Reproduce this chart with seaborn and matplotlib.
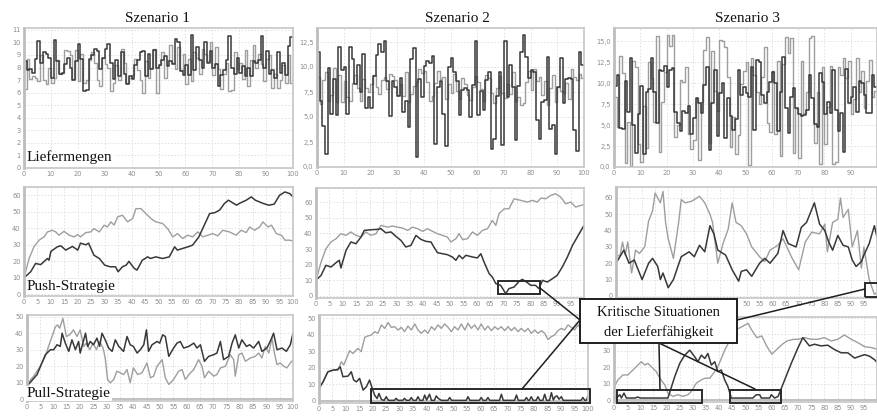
import numpy as np
import matplotlib
matplotlib.use("Agg")
import matplotlib.pyplot as plt
from matplotlib.patches import Rectangle
from matplotlib.lines import Line2D
from matplotlib.ticker import FuncFormatter, FixedLocator
import seaborn as sns

sns.set_style("white")
plt.rcParams['font.family'] = ['DejaVu Sans']

W, H = 877, 417
DARK = '#383838'
LIGHT = '#9e9e9e'

titles = ["Szenario 1", "Szenario 2", "Szenario 3"]
row_labels = ["Liefermengen", "Push-Strategie", "Pull-Strategie"]
annot_text = ["Kritische Situationen", "der Lieferfähigkeit"]

# ---------------- Row 1: Liefermengen (step series, periods 0..99) ----------------
lief1_dark = [8.5, 7.8, 7.9, 7.6, 8.7, 10.1, 8.4, 9.2, 9.1, 8.8,
              7.2, 10.2, 8.5, 7.5, 7.6, 8.3, 8.8, 8.0, 7.0, 8.5,
              9.9, 8.7, 6.1, 6.2, 8.7, 9.0, 9.5, 9.3, 7.9, 8.8,
              9.5, 9.9, 8.4, 7.1, 8.6, 7.3, 9.2, 7.5, 6.7, 7.3,
              7.1, 8.2, 8.6, 9.2, 9.3, 7.3, 9.1, 7.9, 9.4, 8.0,
              8.2, 8.6, 8.9, 8.1, 8.5, 8.3, 10.3, 10.0, 7.7, 7.4,
              8.2, 7.4, 10.6, 7.8, 9.6, 8.6, 8.0, 10.0, 8.4, 9.3,
              8.0, 8.3, 6.5, 7.4, 7.8, 8.6, 10.5, 8.0, 7.5, 8.8,
              7.6, 8.1, 7.3, 8.0, 7.3, 8.5, 8.4, 8.6, 10.5, 8.0,
              9.3, 7.5, 7.8, 7.2, 9.2, 7.6, 8.4, 7.4, 9.7, 10.4]
lief1_light = [6.3, 8.7, 7.1, 7.3, 7.2, 6.9, 9.0, 7.0, 6.7, 8.0,
               6.8, 7.2, 8.6, 7.5, 7.6, 9.4, 9.3, 9.0, 7.1, 9.4,
               6.9, 9.1, 6.8, 7.0, 8.6, 9.2, 8.4, 7.0, 6.5, 8.8,
               8.3, 8.0, 6.1, 6.8, 8.2, 7.0, 9.5, 8.4, 6.8, 7.2,
               7.4, 8.7, 7.8, 7.0, 6.0, 8.5, 7.2, 8.0, 9.5, 6.0,
               8.2, 9.2, 7.2, 8.6, 9.8, 8.4, 7.9, 9.6, 7.8, 9.1,
               6.7, 8.7, 6.9, 9.2, 8.8, 7.5, 9.5, 9.1, 8.5, 10.0,
               7.4, 9.6, 7.9, 6.3, 7.5, 8.4, 6.1, 6.2, 9.2, 7.9,
               8.4, 7.1, 9.4, 6.5, 8.6, 9.8, 8.0, 9.1, 8.3, 6.9,
               8.7, 9.0, 6.4, 7.5, 6.4, 7.0, 8.2, 6.8, 9.0, 6.8]
lief2_dark = [11.5, 6.6, 4.1, 1.3, 9.9, 5.3, 8.8, 5.2, 12.0, 9.7,
              10.0, 5.3, 12.0, 10.8, 8.3, 10.2, 7.5, 11.3, 5.9, 7.0,
              5.9, 9.1, 11.2, 12.3, 11.5, 12.6, 8.6, 5.1, 8.6, 8.0,
              7.1, 8.9, 5.5, 6.6, 4.0, 10.8, 11.9, 1.0, 8.8, 7.0,
              10.1, 10.6, 10.4, 11.1, 2.3, 8.0, 8.6, 5.3, 2.1, 10.0,
              10.9, 9.5, 8.6, 5.2, 7.7, 7.9, 7.7, 5.0, 8.2, 12.6,
              5.2, 7.6, 5.7, 8.7, 9.5, 1.8, 2.8, 7.1, 9.5, 2.2,
              12.6, 7.0, 10.2, 8.0, 2.7, 8.1, 11.5, 13.2, 11.0, 8.9,
              9.7, 9.5, 4.7, 2.8, 6.5, 6.7, 11.0, 3.8, 4.2, 1.3,
              8.0, 10.9, 6.4, 8.8, 8.9, 8.8, 3.7, 1.6, 11.5, 10.2]
lief2_light = [9.0, 6.3, 8.7, 9.5, 6.6, 7.2, 9.9, 6.5, 9.2, 6.5,
               8.6, 7.0, 6.6, 8.4, 9.2, 7.9, 6.6, 8.8, 7.9, 7.5,
               8.3, 9.2, 8.0, 7.3, 8.7, 9.0, 7.8, 9.3, 9.1, 8.7,
               7.2, 8.3, 7.1, 9.5, 6.5, 7.3, 8.1, 8.5, 9.8, 9.4,
               9.6, 8.5, 6.6, 7.1, 8.4, 9.6, 8.8, 9.0, 6.8, 8.3,
               7.4, 9.3, 7.6, 6.8, 8.9, 8.3, 7.2, 6.7, 8.0, 9.1,
               8.5, 7.8, 6.6, 9.2, 8.9, 7.4, 6.4, 7.9, 9.1, 7.4,
               6.9, 8.3, 7.3, 9.5, 6.6, 7.0, 6.2, 6.4, 8.5, 9.6,
               7.7, 9.8, 8.6, 9.0, 7.2, 8.6, 6.2, 7.9, 9.2, 6.5,
               8.0, 7.6, 7.4, 8.4, 6.8, 9.8, 9.0, 8.7, 9.3, 8.9]
lief3_dark = [9.7, 11.0, 4.6, 4.5, 10.3, 6.6, 13.0, 5.0, 1.7, 6.3,
              9.7, 1.5, 9.0, 9.3, 13.0, 9.0, 5.2, 11.6, 11.5, 12.1,
              9.6, 11.6, 11.8, 6.6, 5.2, 4.3, 6.7, 6.4, 7.3, 3.9,
              5.8, 8.2, 7.6, 6.4, 9.8, 12.0, 2.0, 7.7, 11.6, 3.7,
              8.8, 10.0, 3.5, 8.2, 6.1, 4.4, 5.7, 11.6, 8.6, 9.6,
              8.8, 8.3, 12.0, 4.4, 12.8, 12.5, 8.6, 7.7, 8.9, 10.1,
              11.3, 10.0, 4.3, 9.0, 13.1, 7.1, 4.1, 8.4, 9.4, 7.0,
              6.3, 6.1, 6.2, 6.8, 11.0, 8.2, 5.1, 4.8, 11.2, 10.2,
              6.3, 7.8, 6.5, 11.6, 6.8, 4.3, 6.4, 1.8, 11.7, 7.6,
              8.4, 9.5, 6.6, 10.3, 10.0, 8.6, 6.4, 6.4, 11.0, 9.5]
lief3_light = [8.4, 4.8, 13.2, 11.2, 0.5, 5.4, 0.1, 12.7, 12.0, 2.8,
               0.6, 7.3, 2.3, 12.5, 10.6, 5.4, 15.7, 1.8, 7.8, 11.3,
               15.8, 14.5, 15.8, 3.6, 5.0, 10.4, 10.2, 12.0, 4.0, 2.2,
               3.2, 8.2, 0.8, 7.8, 14.0, 15.5, 2.9, 13.8, 9.1, 6.7,
               15.2, 15.0, 14.3, 10.8, 2.4, 6.0, 1.5, 3.8, 9.9, 11.5,
               12.5, 0.2, 13.0, 11.0, 8.9, 7.5, 10.8, 14.3, 5.2, 4.2,
               11.5, 4.0, 12.6, 1.3, 12.3, 15.5, 13.6, 15.4, 1.7, 7.0,
               1.1, 12.6, 6.4, 8.9, 15.4, 15.6, 2.9, 9.0, 0.4, 12.0,
               2.7, 7.2, 12.1, 0.3, 0.6, 12.0, 11.0, 13.0, 10.6, 12.6,
               6.3, 8.1, 13.0, 9.0, 11.5, 7.0, 10.3, 12.8, 8.3, 9.1]

# ---------------- Row 2: Push-Strategie ----------------
push1_dark_x = [0, 2.5, 4.3, 6.2, 8.7, 9.3, 10, 12.4, 13.7, 15.5, 18, 20, 21, 23, 24, 26, 28, 30, 32, 34,
                35, 36.6, 38, 39, 41, 42, 44, 46, 47, 49, 51.5, 54, 56, 57, 59, 61, 62.7, 65, 67, 69,
                71, 72.7, 74.5, 76, 79, 80, 82.6, 84.5, 86, 89, 91, 93, 95, 97, 98.8, 100]
push1_dark_y = [10, 13.7, 18.7, 18, 21.7, 20.7, 26, 28.8, 29.4, 26.8, 29, 26.8, 31, 30, 31, 23.7, 21.7, 17.7, 16.7, 16.7,
                13.7, 16.7, 17.7, 20, 15.7, 14.7, 20.7, 22.7, 21.7, 22.7, 21.7, 22.7, 28.8, 26.8, 27.8, 28.8, 29.8, 34.8, 41.8, 48.9,
                49.5, 51, 55, 57, 54, 55, 57, 59, 57, 55, 54, 54.6, 60, 62, 61, 59]
push1_light_x = [0, 1.9, 3.7, 5.6, 7.5, 8.7, 10.6, 11.8, 13, 14.9, 16.8, 18.6, 19.9, 21, 23, 24.8, 26, 28, 29.8, 31,
                 32.3, 33.5, 34.8, 36.6, 38.5, 40.4, 41.6, 43.5, 45.3, 47.2, 49, 51.5, 53.4, 55.3, 57.1, 59, 60.9, 62.7, 64.6, 66.5,
                 68.3, 70.2, 72, 73.9, 76.4, 78.9, 80.7, 82.6, 83.9, 85.7, 87.6, 88.8, 90.7, 92, 93.8, 95.7, 97, 98.8, 100]
push1_light_y = [10, 21.7, 28.8, 32.8, 34.8, 37.8, 38.8, 37.8, 35.8, 38.2, 35.8, 34.8, 36.2, 34.8, 37.4, 37.8, 39.8, 37.8, 41.9, 40.8,
                 43.9, 41.9, 46.9, 47.9, 43.9, 45.9, 51.9, 51.9, 48.9, 45.9, 43.9, 42.9, 39.8, 34.8, 36.8, 33.8, 35.8, 34.8, 37.8, 34.8,
                 35.8, 36.8, 35.4, 38.8, 37.8, 35.8, 38.8, 37.4, 40.8, 38.8, 40.8, 43.9, 40.8, 41.9, 36.8, 35.8, 32.8, 32.8, 32.2]
push2_dark_x = [0, 1.9, 3.7, 5.6, 7.5, 8.7, 9.3, 11.2, 13, 14.9, 16.8, 18, 20.5, 23, 24.2, 26, 28, 29.8, 31.7, 33.5,
                35.4, 37.3, 39.1, 41, 42.9, 44, 45.3, 47.2, 49, 50.9, 52.2, 53.4, 54.7, 55.9, 58.4, 60.2, 61.5, 62.7, 64.6, 65.8,
                67.1, 68.9, 70.8, 72, 73.9, 75.8, 77, 78.9, 80.1, 81.9, 83.2, 84.5, 86.3, 88.2, 90, 91.9, 93.8, 95.7, 97.5, 100]
push2_dark_y = [10, 13.2, 19.6, 18.5, 21.3, 22.8, 17.9, 29.1, 34.5, 33.4, 37.7, 41.9, 42.3, 42.6, 43, 40.4, 40.9, 38.1, 35.5, 31.3,
                32.3, 38.7, 36.2, 34.9, 34.5, 31.3, 27.7, 27, 26.4, 24.9, 22.8, 26, 23.8, 26, 24.9, 24.3, 27, 21.7, 14.3, 12.1,
                7.9, 6.8, 1.5, 4.7, 5.7, 9.4, 10.6, 8.5, 6.8, 6.8, 4.7, 10, 8.9, 11, 13.2, 18.5, 24.9, 32.3, 37.7, 45.1]
push2_light_x = [0, 1.9, 3.7, 5.6, 7.5, 9.3, 11.2, 13, 14.9, 16.8, 18.6, 20.5, 22.4, 24.2, 26.7, 28.6, 30.4, 32.3, 34.2, 36,
                 37.9, 39.8, 41.6, 43.5, 45.3, 47.2, 49, 50.3, 52.2, 53.4, 54.7, 56.5, 58.4, 60.2, 62.1, 64, 65.8, 67.1, 68.3, 70.2,
                 72, 73.9, 76.4, 78.9, 80.7, 82.6, 83.9, 85.7, 87.6, 89.4, 91.3, 93.2, 95, 96.9, 98.8, 100]
push2_light_y = [10, 21.7, 30.2, 34.5, 36.6, 39.8, 38.7, 40.9, 38.7, 37.7, 40.9, 38.7, 39.8, 45.1, 44, 44.7, 44, 43.4, 41.9, 44,
                 43, 41.3, 43, 41.3, 39.8, 38.7, 37.7, 34.5, 36.6, 39.8, 36, 36.6, 40.9, 38.7, 41.9, 43, 48.3, 45.1, 52.6, 55.7,
                 55.7, 62.1, 61.1, 60, 61.1, 60, 62.6, 62.1, 64.3, 65.3, 63.2, 58.9, 60, 56.8, 57.9, 58.3]
push3_dark_x = [0, 3, 5, 7, 9, 10, 12.5, 14, 16, 17, 18, 20, 22, 25, 28, 30, 32, 34, 36, 37.5,
                39, 42, 44.5, 47, 48, 50, 52, 55, 57, 59, 62, 64, 66, 69, 71, 73, 76, 78, 80, 81.5,
                83, 85, 87, 89, 90.5, 92, 94, 95, 97, 99, 100]
push3_dark_y = [20, 28, 20, 22, 14, 10, 20, 23, 18, 10, 14, 5, 10, 24, 27, 24, 31, 27, 43, 38,
                28, 25, 16, 9, 15, 16, 12, 20, 23, 20, 26, 40, 32, 30, 42, 45, 57, 44, 40, 33,
                28, 37, 31, 30, 22, 18, 21, 25, 32, 43, 36]
push3_light_x = [0, 1.6, 2.5, 3.5, 4.5, 6, 7.5, 9, 11, 12.5, 14, 15, 17, 18, 19, 20, 22, 24, 25, 26.5,
                 29, 32, 34, 36, 37, 39, 41, 43, 44.5, 46, 48, 50, 52, 55, 57, 59, 62, 64, 67.5, 70,
                 72.5, 75, 78, 80, 81, 83, 85, 86, 87, 89, 90.5, 92.5, 94, 95, 97, 99, 100]
push3_light_y = [24, 25, 33, 25, 33, 14, 28, 26, 30, 46, 52, 63, 57, 64, 45, 35, 23, 45, 59, 57,
                 58, 61, 57, 50, 45, 20, 32, 41, 57, 45, 43, 38, 30, 24, 21, 28, 31, 35, 23, 16,
                 33, 39, 38, 44, 27, 45, 47, 60, 48, 53, 30, 40, 17, 30, 10, 1, 2]

# ---------------- Row 3: Pull-Strategie ----------------
pull1_dark_x = [0, 3.8, 5.6, 6.9, 8.8, 10, 11.3, 12.5, 13.2, 14.4, 15.7, 16.9, 18.2, 19.4, 20, 22, 22.8, 23.8, 25, 26.3,
                27.3, 28.2, 29.4, 30.7, 32, 33.2, 34.5, 36.3, 37.6, 38.8, 40, 41.4, 42.6, 43.9, 44.9, 45.7, 47, 48.9, 49.9, 51,
                52, 53.3, 55.1, 56.4, 57.6, 58.9, 60.8, 62.7, 63.9, 65.2, 66.7, 68.3, 70.2, 71.4, 72.7, 73.9, 75.8, 77.1, 78.3, 79.6,
                80.8, 82.5, 83.7, 85.2, 87.1, 88.3, 90.2, 91.7, 92.7, 94, 95.9, 97.5, 99, 100]
pull1_dark_y = [8, 15, 22, 27, 30, 30, 33, 32, 40, 34, 29, 36, 30, 35, 28, 40, 32, 35, 33, 37,
                32, 40, 36, 31, 29, 36, 32, 29, 38, 33, 32, 28, 30, 33, 42, 29, 33, 35, 34, 39,
                38, 26, 31, 34, 35, 31, 32, 34, 31, 33, 23, 26, 27, 28, 35, 24, 26, 34, 39, 31,
                36, 32, 33, 31, 35, 29, 31, 36, 40, 30, 31, 29, 33, 40]
pull1_light_x = [0, 2.5, 5, 6.9, 8.1, 9.4, 10.7, 11.5, 12.3, 13.5, 14.8, 16, 17.5, 18.8, 20, 21.3, 22.3, 23.6, 24.8, 26.1,
                 27.3, 28.6, 29.4, 30.3, 31.3, 32.6, 33.8, 35.1, 36.3, 37.6, 38.8, 40, 41.6, 43.2, 45.1, 46.4, 47.6, 48.9, 50.8, 52,
                 53.3, 55.1, 57, 58.3, 59.5, 61.4, 62.7, 64.5, 65.8, 66.7, 68.3, 70.2, 71.4, 72.7, 74.6, 76.4, 77.7, 78.3, 79.6, 80.8,
                 82.1, 84, 85.8, 87.1, 88.3, 89.6, 90.9, 92.1, 93, 94, 95.2, 96.5, 97.7, 99, 100]
pull1_light_y = [9, 14, 20, 26, 32, 38, 44, 45, 43, 49, 38, 39, 42, 38, 42, 32, 34, 30, 34, 30,
                 35, 31, 25, 12, 10, 12, 17, 16, 15, 18, 10, 19, 15, 16, 22, 13, 14, 20, 24, 13,
                 9, 12, 17, 18, 12, 16, 18, 24, 20, 13, 17, 14, 15, 19, 20, 27, 24, 14, 27, 28,
                 23, 25, 26, 28, 25, 32, 28, 37, 28, 21, 22, 20, 19, 22, 24]
pull2_dark_x = [0, 1.5, 3.3, 5.2, 7, 7.9, 8.9, 10.8, 12, 12.9, 13.9, 15.1, 16.4, 17.6, 18.8, 19.8, 20.7, 21.6, 22.3, 23.2,
                24.2, 25, 25.8, 28, 28.7, 29.4, 31.1, 31.8, 32.5, 33.6, 34.3, 35, 36.1, 36.8, 37.5, 38.6, 39.3, 40, 41.1, 41.8,
                42.9, 43.6, 44.3, 45.5, 47.9, 48.6, 49.3, 54.7, 55.4, 56.1, 59.6, 60.3, 61, 62.1, 62.8, 63.5, 67.1, 67.8, 68.5,
                72.7, 73.4, 74.1, 76.4, 77.1, 77.8, 78.2, 78.9, 79.6, 80.7, 81.4, 82.1, 83.2, 83.9, 84.6, 85.7, 86.4, 87.1,
                87.8, 88.5, 89.2, 90.1, 90.8, 97.4, 98.1, 98.8, 99.5, 100]
pull2_dark_y = [7.5, 11.5, 17.6, 18.6, 19, 20.6, 14.6, 15, 17.6, 12.6, 11.5, 13.6, 6.5, 8.5, 12.6, 7.5, 3.4, 1.4, 4.5, 0.8,
                0.3, 2.5, 0.3, 0.3, 1.5, 0.3, 0.3, 1.5, 0.3, 0.3, 2, 0.3, 0.3, 2.5, 0.3, 0.3, 3.5, 0.5, 4, 0.3,
                0.3, 3, 1.5, 0.3, 0.3, 2, 0.3, 0.3, 2.5, 0.3, 0.3, 2, 0.3, 0.3, 2, 0.3, 0.3, 4, 0.3,
                0.3, 3.5, 0.3, 0.3, 2, 0.3, 0.3, 2.5, 0.3, 0.3, 2.5, 0.3, 0.3, 4, 0.3, 0.3, 5, 0.5,
                2.5, 3, 1, 2.5, 0.3, 0.3, 2, 0.3, 0.5, 3]
pull2_light_x = [0, 1.5, 3.3, 5.2, 7, 8.3, 9.2, 11.4, 12.6, 14.5, 15.7, 17, 18.2, 19.5, 20.7, 21.9, 23.2, 24.4, 25.7, 26.9,
                 28.1, 29.4, 30.6, 31.8, 33.1, 34.3, 35.6, 36.8, 38, 39.3, 40.5, 41.8, 43, 44.2, 45.5, 46.7, 48, 49.2, 50.4, 51.7,
                 52.9, 54.2, 55.4, 56.6, 57.9, 59.1, 60.3, 61.6, 62.8, 64.1, 65.3, 66.5, 67.8, 69, 70.3, 71.5, 72.7, 74, 75.2, 76.5,
                 77.7, 78.9, 80.2, 81.4, 82.7, 83.9, 85.1, 86.4, 87.6, 88.8, 90.1, 91.3, 92.6, 93.8, 95, 96.3, 97.5, 98.8, 100]
pull2_light_y = [7.5, 11.5, 17.6, 18.6, 18.6, 23.7, 21.7, 30.4, 28.7, 31.8, 29.8, 38.5, 39.3, 39.9, 41.9, 40.9, 46, 43.9, 47.4, 44.5,
                 44.9, 42.9, 44.5, 41.9, 45.3, 42.9, 46.6, 42.9, 40.9, 42.9, 40.9, 44.9, 42.9, 46, 43.9, 46.6, 44.5, 41.9, 44.9, 42.9,
                 46.6, 42.9, 47, 43.9, 46, 42.9, 46.6, 42.9, 45.3, 42.5, 44.9, 43.3, 44.9, 42.5, 44.9, 42.5, 44.5, 41.9, 43.9, 41.9,
                 43.9, 40.9, 42.9, 40.9, 42.5, 40.9, 37.2, 38.9, 39.9, 42.5, 43.9, 42.9, 46, 44.5, 42.9, 46, 43.3, 43.9, 44.5]
pull3_dark_x = [0, 0.9, 2.2, 2.8, 3.8, 4.7, 8, 9, 10, 11, 19.3, 20.5, 23.1, 25, 26.9, 28.8, 30.7, 31.9, 33.2, 34.5,
                35.7, 37, 38.3, 39.5, 40.8, 42.1, 43.3, 44.6, 52.8, 54.1, 55.4, 56, 59.2, 59.8, 61.1, 62.4, 64.9, 67.4, 70, 71.8,
                74.3, 76.2, 78.7, 81.3, 83.8, 86.4, 88.9, 91.5, 93.4, 95.3, 97.2, 99.1, 100]
pull3_dark_y = [3.4, 1.4, 3.4, 1.4, 4.4, 1.4, 1.4, 2, 1.4, 1.4, 1.4, 1.4, 14.4, 22.4, 27.4, 30.4, 26.4, 23.4, 27.4, 25.4,
                28.4, 21.4, 23.4, 17.4, 18.4, 12.4, 8.4, 1.4, 1.4, 3.4, 3.4, 1.4, 1.4, 3.4, 1.4, 2.4, 12.4, 22.4, 32, 38,
                33, 34, 33, 33.4, 30.8, 28.8, 28.8, 25.6, 26.7, 27.7, 26.7, 24.6, 23]
pull3_light_x = [0, 1.5, 3.4, 5.3, 7.2, 9.1, 10.4, 11.7, 12.9, 14.8, 16.1, 17.4, 19.3, 20.5, 22.4, 24.3, 26.2, 28.1, 29.4, 31.3,
                 33.2, 34.5, 36.4, 38.3, 39.5, 40.8, 42.1, 44, 45.9, 47.1, 49.1, 51, 52.2, 54.3, 56.2, 58, 60, 62, 64, 65.8,
                 68.3, 70, 72.4, 74.9, 77.5, 80, 82.6, 85.1, 87.6, 90.2, 92.7, 95.3, 97.8, 100]
pull3_light_y = [8, 12.4, 15.4, 15.4, 18.4, 21.4, 23.4, 21.4, 22.4, 19.4, 17.4, 13.4, 9.4, 4.4, 2.4, 3.4, 2.4, 3.4, 5.4, 10.4,
                 12.4, 13.4, 13.4, 17.4, 20.4, 25.4, 30.4, 36.4, 40.4, 43.4, 45, 46.7, 43, 38, 39, 33, 28, 31, 34, 36,
                 37, 37, 38, 37, 37, 38, 36, 37, 39.6, 37, 35, 32.5, 32, 31]

fig = plt.figure(figsize=(W / 100, H / 100), dpi=100)
fig.patch.set_facecolor('white')


def add_ax(l, t, r, b):
    return fig.add_axes([l / W, 1 - b / H, (r - l) / W, (b - t) / H])


def style(ax, xticks, ylim, yticks, comma=False, ylabel_max=None):
    ax.set_xlim(0, 100)
    ax.set_ylim(*ylim)
    ax.xaxis.set_major_locator(FixedLocator(xticks))
    ax.yaxis.set_major_locator(FixedLocator(yticks))

    def yfmt(v, p):
        if ylabel_max is not None and v > ylabel_max:
            return ''
        return f"{v:.1f}".replace('.', ',') if comma else f"{v:.0f}"

    ax.yaxis.set_major_formatter(FuncFormatter(yfmt))
    ax.xaxis.set_major_formatter(FuncFormatter(lambda v, p: f"{v:.0f}"))
    ax.grid(True, color='#dedede', linestyle=(0, (2, 2)), linewidth=0.6)
    ax.set_axisbelow(True)
    for s in ax.spines.values():
        s.set_color('#c6c6c6')
        s.set_linewidth(1.2)
    ax.spines['left'].set_linewidth(2.0)
    ax.spines['left'].set_color('#bdbdbd')
    ax.tick_params(axis='both', length=0, labelsize=4.8, labelcolor='#8c8c8c', pad=2.5)
    ax.set_xlabel('')
    ax.set_ylabel('')


def step_plot(ax, vals, color, lw, start_zero=False):
    xs = list(np.arange(len(vals) + 1))
    ys = list(vals) + [vals[-1]]
    if start_zero:
        xs = [0] + xs
        ys = [0] + ys
    sns.lineplot(x=xs, y=ys, ax=ax, color=color, linewidth=lw, drawstyle='steps-post',
                 estimator=None, sort=False)


def line_plot(ax, xs, ys, color, lw):
    sns.lineplot(x=xs, y=ys, ax=ax, color=color, linewidth=lw, estimator=None, sort=False)


x10 = list(range(0, 101, 10))
x5 = list(range(0, 101, 5))
x10_cut = list(range(0, 91, 10))
x5_cut = list(range(0, 96, 5))

# Row 1
a11 = add_ax(24, 28, 293, 168)
step_plot(a11, lief1_light, LIGHT, 1.0, True)
step_plot(a11, lief1_dark, DARK, 1.1, True)
style(a11, x10, (0, 11.15), list(range(0, 12)))

a12 = add_ax(317, 28, 584, 167)
step_plot(a12, lief2_light, LIGHT, 1.0)
step_plot(a12, lief2_dark, DARK, 1.1)
style(a12, x10, (0, 13.9), [0, 2.5, 5, 7.5, 10, 12.5], comma=True)

a13 = add_ax(614, 28, 877, 167)
step_plot(a13, lief3_light, LIGHT, 1.0)
step_plot(a13, lief3_dark, DARK, 1.1)
style(a13, x10_cut, (0, 16.6), [0, 2.5, 5, 7.5, 10, 12.5, 15], comma=True)

# Row 2
a21 = add_ax(24, 187, 293, 296)
line_plot(a21, push1_light_x, push1_light_y, LIGHT, 1.0)
line_plot(a21, push1_dark_x, push1_dark_y, DARK, 1.1)
style(a21, x5, (-1, 65), list(range(0, 61, 10)))

a22 = add_ax(316, 188, 584, 298)
line_plot(a22, push2_light_x, push2_light_y, LIGHT, 1.0)
line_plot(a22, push2_dark_x, push2_dark_y, DARK, 1.1)
style(a22, x5, (-1.3, 69), list(range(0, 61, 10)))

a23 = add_ax(616, 187, 877, 298)
line_plot(a23, push3_light_x, push3_light_y, LIGHT, 1.0)
line_plot(a23, push3_dark_x, push3_dark_y, DARK, 1.1)
style(a23, x5_cut, (-1.3, 66.7), list(range(0, 61, 10)))

# Row 3
a31 = add_ax(27, 315, 293, 401)
line_plot(a31, pull1_light_x, pull1_light_y, LIGHT, 1.0)
line_plot(a31, pull1_dark_x, pull1_dark_y, DARK, 1.1)
style(a31, x5, (-1, 51), list(range(0, 51, 10)))

a32 = add_ax(319, 315, 588, 403)
line_plot(a32, pull2_light_x, pull2_light_y, LIGHT, 1.0)
line_plot(a32, pull2_dark_x, pull2_dark_y, DARK, 1.1)
style(a32, x5, (-1.3, 52), list(range(0, 51, 10)))

a33 = add_ax(614, 317, 877, 402)
line_plot(a33, pull3_light_x, pull3_light_y, LIGHT, 1.0)
line_plot(a33, pull3_dark_x, pull3_dark_y, DARK, 1.1)
# labels 40 and 50 sit behind the annotation box in the reference
style(a33, x5_cut, (-1, 50.5), list(range(0, 51, 10)), ylabel_max=30)

for ax in (a31, a32, a33):
    ax.axhline(0, color='#bdbdbd', lw=1.3, zorder=1)

# Column titles
for x, t in zip([157, 457, 747], titles):
    fig.text(x / W, 1 - 22 / H, t, ha='center', va='baseline',
             fontsize=11, family='Liberation Serif', color='#111111')

# Row labels
for (x, y), t in zip([(27, 161), (27, 290), (27, 397)], row_labels):
    fig.text(x / W, 1 - y / H, t, ha='left', va='baseline', fontsize=11,
             family='Liberation Serif', color='#111111', zorder=20,
             bbox=dict(facecolor='white', edgecolor='none', pad=1.0))

# Critical situation rectangles (data coordinates)
rect_kw = dict(fill=False, edgecolor='#2a2a2a', linewidth=1.4, clip_on=False, zorder=6)
a22.add_patch(Rectangle((68, 1.3), 15.6, 8.3, **rect_kw))
a23.add_patch(Rectangle((95.4, -0.6), 8, 8.6, **rect_kw))
a32.add_patch(Rectangle((19.3, -1.3), 81.4, 8.5, **rect_kw))
a33.add_patch(Rectangle((1.1, -1.6), 32.4, 7.9, **rect_kw))
a33.add_patch(Rectangle((44.1, -1.6), 19.4, 7.9, **rect_kw))

# Connector lines (figure pixel coordinates)
conns = [((580, 320), (540, 288)), ((580, 320), (522, 389)),
         ((659, 343), (660, 389)), ((659, 343), (755, 389)),
         ((737, 320), (865, 289))]
for (x0, y0), (x1, y1) in conns:
    fig.add_artist(Line2D([x0 / W, x1 / W], [1 - y0 / H, 1 - y1 / H], transform=fig.transFigure,
                          color='#1e1e1e', lw=1.1, zorder=30))

# Label box
fig.add_artist(Rectangle((580 / W, 1 - 343 / H), 157 / W, 44 / H, transform=fig.transFigure,
                         facecolor='white', edgecolor='#1e1e1e', lw=1.4, zorder=40))
fig.text(658.5 / W, 1 - 316 / H, annot_text[0], ha='center', va='baseline', fontsize=10.5,
         family='Liberation Serif', color='#111111', zorder=41)
fig.text(658.5 / W, 1 - 336 / H, annot_text[1], ha='center', va='baseline', fontsize=10.5,
         family='Liberation Serif', color='#111111', zorder=41)

fig.savefig('out.png', dpi=100)
